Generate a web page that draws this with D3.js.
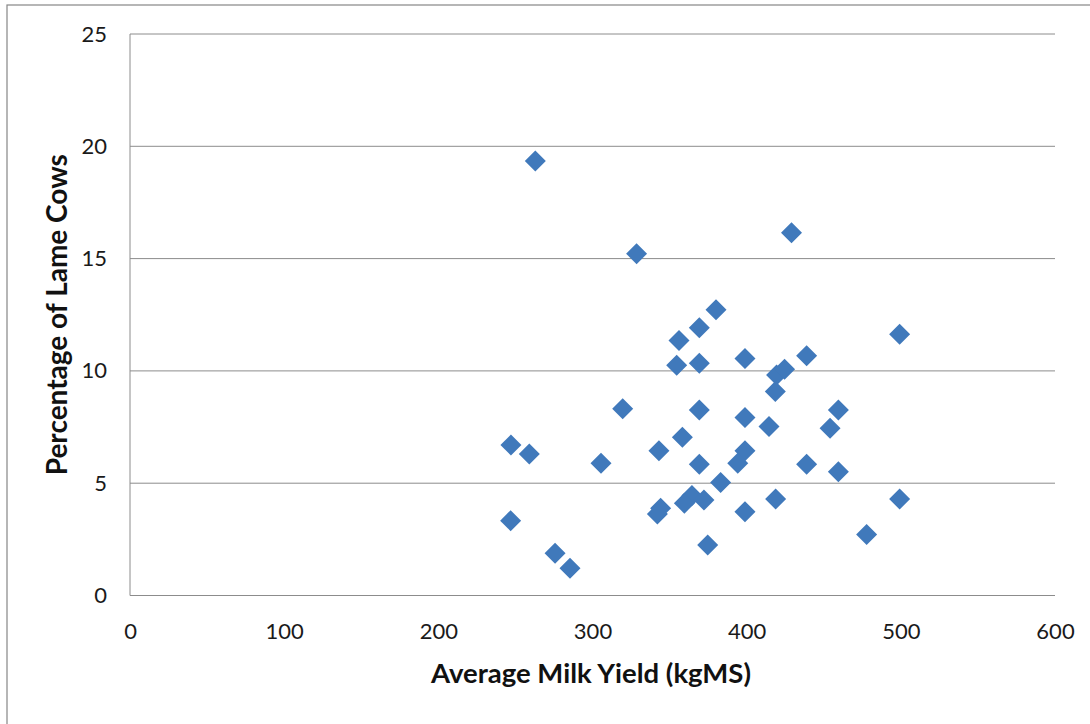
<!DOCTYPE html>
<html><head><meta charset="utf-8">
<script src="https://cdn.jsdelivr.net/npm/d3@7"></script>
<style>body{margin:0;background:#fff;}svg{display:block;}</style>
</head><body>
<svg id="c" width="1090" height="724"></svg>
<script>
const milkYield = [262.9,328.6,429.1,380.1,369.3,356.1,354.6,369.3,398.9,438.9,419.4,424.6,
  418.6,319.6,369.3,398.9,459.5,414.5,454.1,247.1,259.0,358.3,343.1,305.5,369.3,398.9,394.2,438.9,459.5,
  383.1,364.5,359.6,372.3,418.8,344.2,342.1,398.9,246.9,374.7,275.7,285.4,477.8,499.2,499.2];
const lamePct = [19.35,15.22,16.15,12.72,11.92,11.35,10.25,10.34,10.55,10.67,9.82,10.07,
  9.08,8.32,8.26,7.92,8.26,7.52,7.45,6.70,6.30,7.05,6.44,5.89,5.84,6.45,5.89,5.84,5.51,
  5.03,4.45,4.11,4.25,4.30,3.88,3.63,3.73,3.33,2.25,1.88,1.21,2.72,11.63,4.30];
const xTicks = [0,100,200,300,400,500,600];
const yTicks = [0,5,10,15,20,25];
const xTitle = "Average Milk Yield (kgMS)";
const yTitle = "Percentage of Lame Cows";

const svg = d3.select("#c");
const font = "Lato, 'Open Sans', sans-serif";
const L=130, R=1055, T=34, B=595.5;
const x = d3.scaleLinear().domain([0,600]).range([L,R]);
const y = d3.scaleLinear().domain([0,25]).range([B,T]);

svg.append("rect").attr("x",7).attr("y",5).attr("width",1100).attr("height",740)
  .attr("fill","#fff").attr("stroke","#868686").attr("stroke-width",1.2);

const grid = svg.append("g");
grid.selectAll("line").data(yTicks).join("line")
  .attr("x1",L).attr("x2",R).attr("y1",d=>y(d)).attr("y2",d=>y(d))
  .attr("stroke","#8c8c8c").attr("stroke-width",1);
svg.append("line").attr("x1",L).attr("x2",L).attr("y1",T).attr("y2",B)
  .attr("stroke","#8c8c8c").attr("stroke-width",1);

const yAxis = d3.axisLeft(y).tickValues(yTicks).tickSize(0).tickPadding(23);
const ga = svg.append("g").attr("transform",`translate(${L},0)`).call(yAxis);
ga.select(".domain").remove();
ga.selectAll("text").attr("font-family",font).attr("font-size",22).attr("fill","#1a1a1a");

const xAxis = d3.axisBottom(x).tickValues(xTicks).tickSize(0).tickPadding(28);
const gx = svg.append("g").attr("transform",`translate(0,${B})`).call(xAxis);
gx.select(".domain").remove();
gx.selectAll("text").attr("font-family",font).attr("font-size",22).attr("fill","#1a1a1a");

svg.append("text").attr("x",591).attr("y",683).attr("text-anchor","middle")
  .attr("font-family",font).attr("font-weight","bold").attr("font-size",27.5).attr("fill","#111").text(xTitle);
svg.append("text").attr("transform",`translate(67,${(T+B)/2}) rotate(-90)`).attr("text-anchor","middle")
  .attr("font-family",font).attr("font-weight","bold").attr("font-size",28).attr("fill","#111").text(yTitle);

const pts = milkYield.map((v,i)=>({x:v,y:lamePct[i]}));
const h = 10.5;
svg.append("g").selectAll("path").data(pts).join("path")
  .attr("d",d=>{const cx=x(d.x), cy=y(d.y);return `M${cx},${cy-h}L${cx+h},${cy}L${cx},${cy+h}L${cx-h},${cy}Z`;})
  .attr("fill","#4079bb");
</script>
</body></html>
